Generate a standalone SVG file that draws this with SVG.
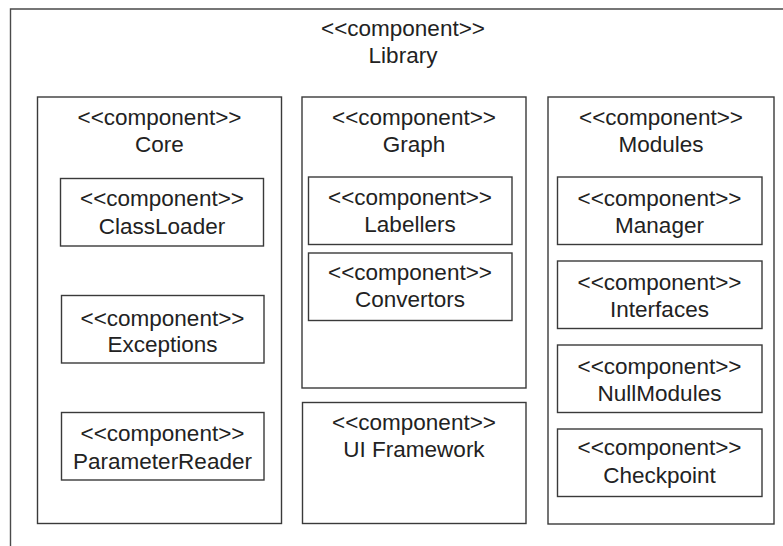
<svg xmlns="http://www.w3.org/2000/svg" width="783" height="546" viewBox="0 0 783 546">
  <style>
    .box { fill: #ffffff; stroke: #3a3a3a; stroke-width: 1.4; }
    .frame { fill: none; stroke: #4a4a4a; stroke-width: 1.4; }
    text { font-family: "Liberation Sans", Arial, Helvetica, sans-serif; font-size: 22.5px; fill: #222222; text-anchor: middle; }
  </style>
  <rect width="783" height="546" fill="#ffffff"/>

  <!-- outer Library component (extends past the canvas) -->
  <g id="library">
    <path class="frame" d="M10.5,546 V9 H783"/>
    <text x="403" y="36">&lt;&lt;component&gt;&gt;</text>
    <text x="403" y="63">Library</text>
  </g>

  <!-- Core -->
  <g id="core">
    <rect class="box" x="37.5" y="97" width="244" height="426.5"/>
    <text x="159.5" y="125">&lt;&lt;component&gt;&gt;</text>
    <text x="159.5" y="152">Core</text>
  </g>
  <g id="classloader">
    <rect class="box" x="60.5" y="178.5" width="203" height="67.5"/>
    <text x="162" y="206">&lt;&lt;component&gt;&gt;</text>
    <text x="162" y="234">ClassLoader</text>
  </g>
  <g id="exceptions">
    <rect class="box" x="61.5" y="295.5" width="202.5" height="67.5"/>
    <text x="162.5" y="326">&lt;&lt;component&gt;&gt;</text>
    <text x="162.5" y="352">Exceptions</text>
  </g>
  <g id="parameterreader">
    <rect class="box" x="61.5" y="412.5" width="202.5" height="67.5"/>
    <text x="162.5" y="441">&lt;&lt;component&gt;&gt;</text>
    <text x="162.5" y="469">ParameterReader</text>
  </g>

  <!-- Graph -->
  <g id="graph">
    <rect class="box" x="302" y="97" width="224" height="291"/>
    <text x="414" y="125">&lt;&lt;component&gt;&gt;</text>
    <text x="414" y="152">Graph</text>
  </g>
  <g id="labellers">
    <rect class="box" x="308.5" y="177" width="203.5" height="67.5"/>
    <text x="410" y="205">&lt;&lt;component&gt;&gt;</text>
    <text x="410" y="232">Labellers</text>
  </g>
  <g id="convertors">
    <rect class="box" x="308.5" y="253" width="203.5" height="67.5"/>
    <text x="410" y="280">&lt;&lt;component&gt;&gt;</text>
    <text x="410" y="307">Convertors</text>
  </g>

  <!-- UI Framework -->
  <g id="ui-framework">
    <rect class="box" x="302.5" y="402.5" width="223.5" height="121"/>
    <text x="414" y="430">&lt;&lt;component&gt;&gt;</text>
    <text x="414" y="457">UI Framework</text>
  </g>

  <!-- Modules -->
  <g id="modules">
    <rect class="box" x="548" y="97" width="226" height="427"/>
    <text x="661" y="125">&lt;&lt;component&gt;&gt;</text>
    <text x="661" y="152">Modules</text>
  </g>
  <g id="manager">
    <rect class="box" x="557.5" y="177" width="204.5" height="67.5"/>
    <text x="659.5" y="206">&lt;&lt;component&gt;&gt;</text>
    <text x="659.5" y="233">Manager</text>
  </g>
  <g id="interfaces">
    <rect class="box" x="557.5" y="261" width="204.5" height="67.5"/>
    <text x="659.5" y="290">&lt;&lt;component&gt;&gt;</text>
    <text x="659.5" y="317">Interfaces</text>
  </g>
  <g id="nullmodules">
    <rect class="box" x="557.5" y="345" width="204.5" height="67.5"/>
    <text x="659.5" y="374">&lt;&lt;component&gt;&gt;</text>
    <text x="659.5" y="401">NullModules</text>
  </g>
  <g id="checkpoint">
    <rect class="box" x="557.5" y="429" width="204.5" height="67.5"/>
    <text x="659.5" y="455">&lt;&lt;component&gt;&gt;</text>
    <text x="659.5" y="483">Checkpoint</text>
  </g>

  <!-- no connectors in this diagram -->
  <g id="connectors"/>
</svg>
